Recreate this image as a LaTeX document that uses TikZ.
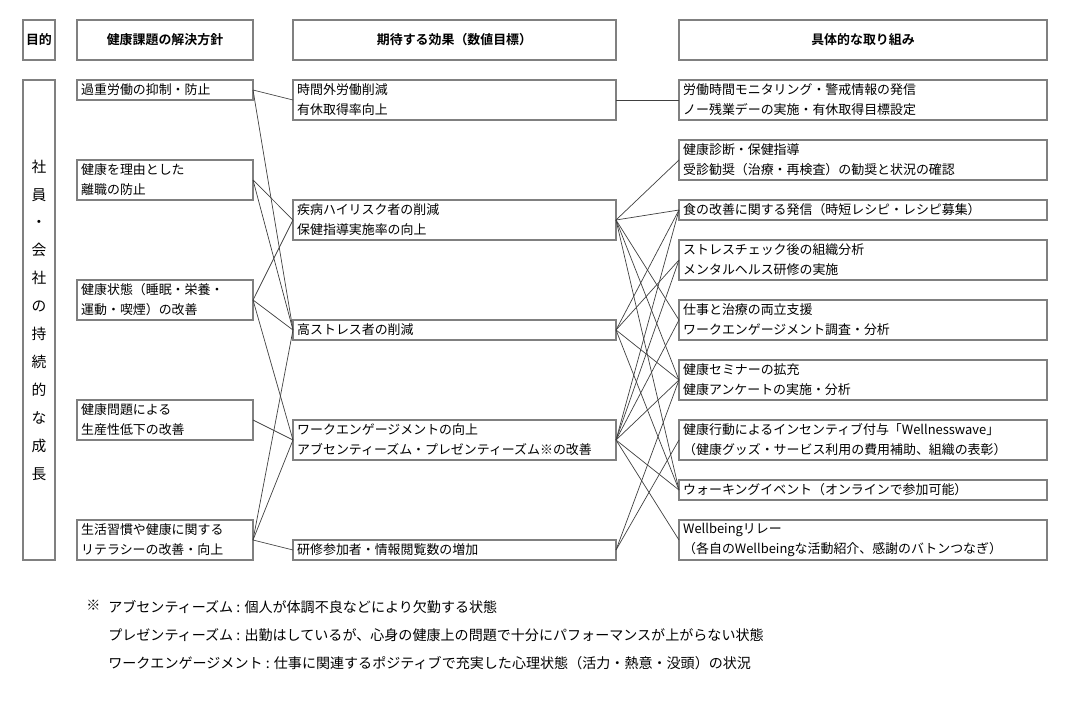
\documentclass[tikz,border=0pt]{standalone}
\usepackage{fontspec}
\setmainfont{Noto Sans CJK JP}[BoldFont={Noto Sans CJK JP Bold}]
\usetikzlibrary{positioning}

\begin{document}
\begin{tikzpicture}[
  node distance=0.5cm and 1cm,
  box/.style={draw=black!50,line width=0.9pt,outer sep=0pt,inner xsep=3pt,inner ysep=1pt,
    align=left,font=\fontsize{9.2pt}{14.2pt}\selectfont},
  headbox/.style={draw=black!50,line width=0.9pt,outer sep=0pt,inner sep=0pt,minimum height=1cm,
    font=\fontsize{9.2pt}{14.2pt}\selectfont\bfseries},
  oneline/.style={minimum height=0.5cm},
  twoline/.style={minimum height=1cm},
  policy/.style={box,text width=4.19cm},
  effect/.style={box,text width=7.865cm},
  action/.style={box,text width=8.99cm},
  link/.style={draw=black!75,line width=0.5pt},
  note/.style={inner sep=0pt,align=left,font=\fontsize{10pt}{19.85pt}\selectfont}
]
  \useasboundingbox (-0.575,0.5) rectangle (26.35,-17.025);

  % headers
  \node[headbox,minimum width=0.8cm,anchor=north west] (HG) at (0,0) {目的};
  \node[headbox,minimum width=4.4cm,right=0.55cm of HG] (HP) {健康課題の解決方針};
  \node[headbox,minimum width=8.075cm,right=of HP] (HE) {期待する効果（数値目標）};
  \node[headbox,minimum width=9.2cm,right=1.575cm of HE] (HA) {具体的な取り組み};

  % goal
  \node[draw=black!50,line width=0.9pt,outer sep=0pt,minimum width=0.8cm,minimum height=12cm,
    align=center,font=\fontsize{10.5pt}{19.85pt}\selectfont,below=of HG] (G)
    {社\\員\\・\\会\\社\\の\\持\\続\\的\\な\\成\\長};

  % policies
  \node[policy,oneline,below=of HP] (P1) {過重労働の抑制・防止};
  \node[policy,twoline,below=1.5cm of P1] (P2) {健康を理由とした\\離職の防止};
  \node[policy,twoline,below=2cm of P2] (P3) {健康状態（睡眠・栄養・\\運動・喫煙）の改善};
  \node[policy,twoline,below=2cm of P3] (P4) {健康問題による\\生産性低下の改善};
  \node[policy,twoline,below=2cm of P4] (P5) {生活習慣や健康に関する\\リテラシーの改善・向上};

  % effects
  \node[effect,twoline,below=of HE] (E1) {時間外労働削減\\有休取得率向上};
  \node[effect,twoline,below=2cm of E1] (E2) {疾病ハイリスク者の削減\\保健指導実施率の向上};
  \node[effect,oneline,below=2cm of E2] (E3) {高ストレス者の削減};
  \node[effect,twoline,below=2cm of E3] (E4) {ワークエンゲージメントの向上\\アブセンティーズム・プレゼンティーズム※の改善};
  \node[effect,oneline,below=2cm of E4] (E5) {研修参加者・情報閲覧数の増加};

  % actions
  \node[action,twoline,below=of HA] (A1) {労働時間モニタリング・警戒情報の発信\\ノー残業デーの実施・有休取得目標設定};
  \node[action,twoline,below=of A1] (A2) {健康診断・保健指導\\受診勧奨（治療・再検査）の勧奨と状況の確認};
  \node[action,oneline,below=of A2] (A3) {食の改善に関する発信（時短レシピ・レシピ募集）};
  \node[action,twoline,below=of A3] (A4) {ストレスチェック後の組織分析\\メンタルヘルス研修の実施};
  \node[action,twoline,below=of A4] (A5) {仕事と治療の両立支援\\ワークエンゲージメント調査・分析};
  \node[action,twoline,below=of A5] (A6) {健康セミナーの拡充\\健康アンケートの実施・分析};
  \node[action,twoline,below=of A6] (A7) {健康行動によるインセンティブ付与「Wellnesswave」\\（健康グッズ・サービス利用の費用補助、組織の表彰）};
  \node[action,oneline,below=of A7] (A8) {ウォーキングイベント（オンラインで参加可能）};
  \node[action,twoline,below=of A8] (A9) {Wellbeingリレー\\（各自のWellbeingな活動紹介、感謝のバトンつなぎ）};

  % policy -> effect
  \draw[link] (P1.east) -- (E1.west);
  \draw[link] (P1.east) -- (E3.west);
  \draw[link] (P2.east) -- (E2.west);
  \draw[link] (P2.east) -- (E3.west);
  \draw[link] (P3.east) -- (E2.west);
  \draw[link] (P3.east) -- (E3.west);
  \draw[link] (P3.east) -- (E4.west);
  \draw[link] (P4.east) -- (E4.west);
  \draw[link] (P5.east) -- (E3.west);
  \draw[link] (P5.east) -- (E4.west);
  \draw[link] (P5.east) -- (E5.west);

  % effect -> action
  \draw[link] (E1.east) -- (A1.west);
  \draw[link] (E2.east) -- (A2.west);
  \draw[link] (E2.east) -- (A3.west);
  \draw[link] (E2.east) -- (A5.west);
  \draw[link] (E2.east) -- (A6.west);
  \draw[link] (E2.east) -- (A8.west);
  \draw[link] (E3.east) -- (A3.west);
  \draw[link] (E3.east) -- (A4.west);
  \draw[link] (E3.east) -- (A6.west);
  \draw[link] (E3.east) -- (A8.west);
  \draw[link] (E4.east) -- (A3.west);
  \draw[link] (E4.east) -- (A4.west);
  \draw[link] (E4.east) -- (A5.west);
  \draw[link] (E4.east) -- (A6.west);
  \draw[link] (E4.east) -- (A8.west);
  \draw[link] (E4.east) -- (A9.west);
  \draw[link] (E5.east) -- (A6.west);
  \draw[link] (E5.east) -- (A7.west);

  % footnote
  \node[note,below right=1cm and 1.575cm of G.south west] (N0) {※};
  \node[note,below right=1cm and 2.125cm of G.south west] (N)
    {アブセンティーズム : 個人が体調不良などにより欠勤する状態\\
     プレゼンティーズム : 出勤はしているが、心身の健康上の問題で十分にパフォーマンスが上がらない状態\\
     ワークエンゲージメント : 仕事に関連するポジティブで充実した心理状態（活力・熱意・没頭）の状況};
\end{tikzpicture}
\end{document}
